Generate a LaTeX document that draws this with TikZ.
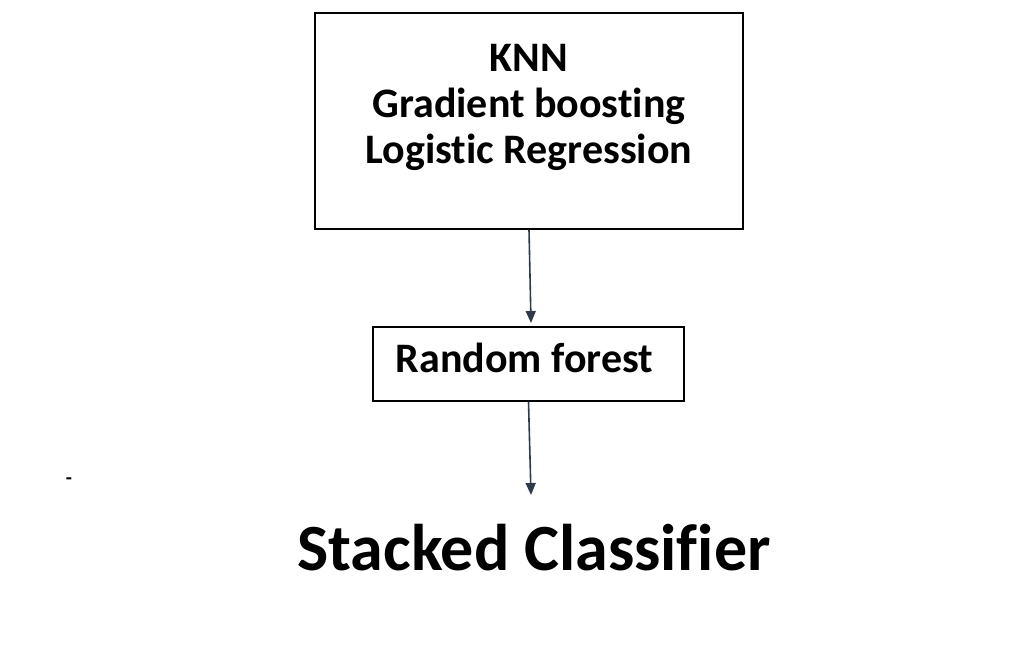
\documentclass[tikz,border=0pt]{standalone}
\usepackage{fontspec}
\setmainfont{Carlito}[Ligatures=NoCommon]
\usepackage{tikz}
\usetikzlibrary{arrows.meta,positioning,calc}
\definecolor{arrowgray}{RGB}{47,59,74}

\begin{document}
\begin{tikzpicture}[
    x=0.5pt, y=-0.5pt,
    every node/.style={font=\bfseries},
    box/.style={draw, rectangle, line width=0.7pt},
    flow/.style={-{Triangle[length=6pt,width=5pt]}, draw=arrowgray, fill=arrowgray, line width=0.8pt}
]
\useasboundingbox (0,0) rectangle (1026,646);

% Base models
\node[box, minimum width=214pt, minimum height=108pt] (models) at (529,121) {};
\node[align=center, font=\fontsize{21}{23}\selectfont\bfseries] (modelstxt) at (529,107) {KNN\\Gradient boosting\\Logistic Regression};

% Meta model
\node[box, minimum width=155.5pt, minimum height=37pt, font=\fontsize{21}{24}\selectfont\bfseries] (forest) at (528.5,364) {\hspace*{-4pt}Random forest\rule[-6pt]{0pt}{0pt}};
\coordinate (tipone) at (531,323);
\draw[flow] (models.south) -- (tipone);

% Result
\node[font=\fontsize{33}{40}\selectfont\bfseries] (stacked) at (534,548) {Stacked Classifier};
\coordinate (tiptwo) at (531,495);
\draw[flow] (forest.south) -- (tiptwo);

\node[font=\bfseries] (dash) at (69,481) {-};

\end{tikzpicture}
\end{document}
